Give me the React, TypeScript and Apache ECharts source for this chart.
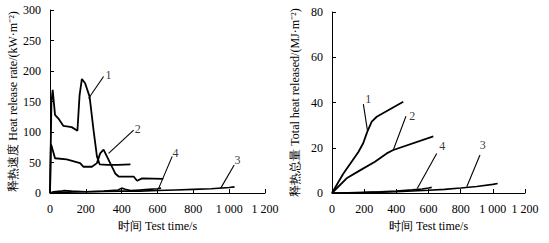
import React, { useEffect, useRef } from "react";
import * as echarts from "echarts";

// Heat release rate (kW/m2)
const hrr1T = [0, 8, 15, 28, 47, 75, 121, 153, 165, 178, 196, 221, 243, 262, 277, 320, 380, 449];
const hrr1V = [0, 150, 169, 128, 122, 110, 108, 102, 160, 187, 180, 158, 103, 60, 47, 46, 46, 47];
const hrr2T = [0, 5, 10, 28, 93, 168, 187, 234, 262, 280, 299, 336, 364, 383, 467, 486, 514, 632];
const hrr2V = [0, 80, 76, 57, 55, 49, 43, 43, 49, 65, 71, 49, 32, 27, 27, 20, 24, 23];
const hrr3T = [0, 30, 100, 200, 300, 400, 500, 600, 700, 800, 900, 1000, 1030];
const hrr3V = [0, 1, 1.5, 2, 2.5, 3, 3, 4, 5, 6, 7, 9, 10];
const hrr4T = [0, 20, 60, 80, 120, 200, 300, 380, 400, 420, 450, 500, 550, 600, 620];
const hrr4V = [0, 2, 3, 4, 3, 2, 3, 5, 8, 6, 4, 5, 6, 7, 8];

// Total heat released (MJ/m2)
const thr1T = [0, 70, 163, 194, 219, 247, 278, 443];
const thr1V = [0, 8.5, 18, 22, 27, 31.5, 33.7, 40.3];
const thr2T = [0, 91, 174, 267, 340, 381, 630];
const thr2V = [0, 6.5, 10, 13.8, 17.5, 19, 25];
const thr3T = [0, 100, 200, 300, 400, 500, 600, 700, 800, 900, 1000, 1030];
const thr3V = [0, 0.1, 0.2, 0.4, 0.6, 0.9, 1.2, 1.6, 2.2, 2.9, 3.8, 4.2];
const thr4T = [0, 100, 200, 300, 400, 500, 560, 600, 620];
const thr4V = [0, 0.1, 0.3, 0.5, 0.9, 1.4, 1.8, 2.2, 2.5];

// Leader lines [t0, v0, t1, v1, labelT, labelV, text]
const hrrLeaders: [number, number, number, number, number, number, string][] = [
  [215, 155, 299, 191, 327, 193, "1"],
  [327, 65, 467, 103, 490, 104, "2"],
  [607, 8, 682, 60, 701, 65, "4"],
  [953, 8, 1028, 46, 1047, 54, "3"],
];
const thrLeaders: [number, number, number, number, number, number, string][] = [
  [220, 27.8, 195, 39.3, 226, 41.4, "1"],
  [381, 19, 460, 34, 499, 33.7, "2"],
  [530, 2, 651, 17.5, 686, 20.5, "4"],
  [838, 2.8, 920, 16.8, 937, 20.8, "3"],
];

const FONT = "'Liberation Serif', 'Times New Roman', serif";

const zip = (t: number[], v: number[]) => t.map((x, i) => [x, v[i]]);

export default function App() {
  const ref = useRef<HTMLDivElement>(null);
  useEffect(() => {
    if (!ref.current) return;
    const chart = echarts.init(ref.current, null, { renderer: "svg" });
    const fmtX = (v: number) => (v >= 1000 ? String(v).replace(/^(\d)(\d{3})$/, "$1 $2") : String(v));
    const xAxisBase = (gi: number) => ({
      type: "value" as const,
      gridIndex: gi,
      min: 0,
      max: 1200,
      interval: 200,
      name: "时间 Test time/s",
      nameLocation: "middle" as const,
      nameGap: 18,
      nameTextStyle: { fontFamily: FONT, fontSize: 12, color: "#000" },
      axisLine: { show: true, lineStyle: { color: "#000", width: 1 } },
      axisTick: { show: true, inside: true, length: 4, lineStyle: { color: "#000" } },
      axisLabel: { fontFamily: FONT, fontSize: 12, color: "#000", margin: 10, formatter: fmtX },
      splitLine: { show: false },
    });
    const yAxisBase = (gi: number, max: number, interval: number, name: string, gap: number) => ({
      type: "value" as const,
      gridIndex: gi,
      min: 0,
      max,
      interval,
      name,
      nameLocation: "middle" as const,
      nameGap: gap,
      nameTextStyle: { fontFamily: FONT, fontSize: 12, color: "#000" },
      axisLine: { show: true, lineStyle: { color: "#000", width: 1 } },
      axisTick: { show: true, inside: true, length: 4, lineStyle: { color: "#000" } },
      axisLabel: { fontFamily: FONT, fontSize: 12, color: "#000", margin: 9 },
      splitLine: { show: false },
    });
    const curve = (gi: number, t: number[], v: number[], w = 1.8) => ({
      type: "line" as const,
      xAxisIndex: gi,
      yAxisIndex: gi,
      data: zip(t, v),
      showSymbol: false,
      symbol: "none",
      lineStyle: { color: "#000", width: w },
      silent: true,
    });
    const leaderSeries = (gi: number, L: typeof hrrLeaders) => [
      ...L.map((l) => ({
        type: "line" as const,
        xAxisIndex: gi,
        yAxisIndex: gi,
        data: [
          [l[0], l[1]],
          [l[2], l[3]],
        ],
        symbol: "none",
        lineStyle: { color: "#000", width: 1.1 },
        silent: true,
      })),
      {
        type: "scatter" as const,
        xAxisIndex: gi,
        yAxisIndex: gi,
        symbolSize: 1,
        itemStyle: { color: "rgba(0,0,0,0)" },
        data: L.map((l) => ({ value: [l[4], l[5]], name: l[6] })),
        label: {
          show: true,
          position: "top" as const,
          distance: -6,
          formatter: (p: any) => p.name,
          fontFamily: FONT,
          fontSize: 12,
          color: "#000",
          textBorderWidth: 0,
        },
        silent: true,
      },
    ];
    chart.setOption({
      animation: false,
      backgroundColor: "#fff",
      grid: [
        { left: 50, top: 10, width: 215, height: 183, containLabel: false },
        { left: 332, top: 12, width: 193, height: 181, containLabel: false },
      ],
      xAxis: [xAxisBase(0), xAxisBase(1)],
      yAxis: [
        yAxisBase(0, 300, 50, "释热速度 Heat release rate/(kW·m⁻²)", 30),
        yAxisBase(1, 80, 20, "释热总量 Total heat released/(MJ·m⁻²)", 31),
      ],
      series: [
        curve(0, hrr1T, hrr1V),
        curve(0, hrr2T, hrr2V),
        curve(0, hrr3T, hrr3V, 1.6),
        curve(0, hrr4T, hrr4V, 1.6),
        ...leaderSeries(0, hrrLeaders),
        curve(1, thr1T, thr1V),
        curve(1, thr2T, thr2V),
        curve(1, thr3T, thr3V, 1.6),
        curve(1, thr4T, thr4V, 1.6),
        ...leaderSeries(1, thrLeaders),
      ],
    });
    return () => chart.dispose();
  }, []);
  return (
    <div
      ref={ref}
      style={{ position: "fixed", left: 0, top: 0, width: 549, height: 243, background: "#fff" }}
    />
  );
}
